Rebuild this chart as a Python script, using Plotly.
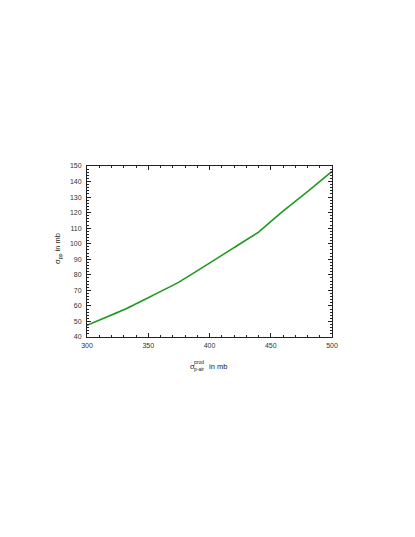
import plotly.graph_objects as go

# Data
sigma_p_air = [300, 330, 350, 375, 400, 420, 440, 460, 480, 500]
sigma_pp = [47.5, 57.5, 65.3, 75.3, 87.5, 97.5, 107.5, 121.0, 133.5, 146.5]

x_ticks = [300, 350, 400, 450, 500]
y_ticks = [40, 50, 60, 70, 80, 90, 100, 110, 120, 130, 140, 150]

# page body has an 8px margin; offset plot placement accordingly
OFF = 8
L, R, T, B = 87 - OFF, 332 - OFF, 166 - OFF, 337 - OFF

fig = go.Figure()
fig.add_trace(go.Scatter(x=sigma_p_air, y=sigma_pp, mode="lines",
                         line=dict(color="#1f9a1f", width=1.6, shape="spline", smoothing=0.3),
                         showlegend=False))

tickfont = dict(family="Liberation Sans, Arial, sans-serif", size=7, color="#333333")
axis_common = dict(showline=True, linecolor="#222222", linewidth=1, mirror="allticks",
                   ticks="inside", ticklen=4, tickcolor="#222222", tickwidth=1,
                   showgrid=False, zeroline=False, tickfont=tickfont)

fig.update_xaxes(range=[300, 500], tickvals=x_ticks, ticklabelstandoff=2,
                 minor=dict(dtick=10, tick0=300, ticks="inside", ticklen=2, tickcolor="#222222", showgrid=False),
                 **axis_common)
fig.update_yaxes(range=[40, 150], tickvals=y_ticks, ticklabelstandoff=3,
                 minor=dict(dtick=2, tick0=40, ticks="inside", ticklen=2, tickcolor="#222222", showgrid=False),
                 **axis_common)

lab = dict(family="Liberation Sans, Arial, sans-serif", size=7.5, color="#222222")
small = dict(family="Liberation Sans, Arial, sans-serif", size=5, color="#222222")
# positions in reference page pixels
annotations = [
    dict(text="σ", x=192, y=366, font=lab),
    dict(text="prod", x=198.5, y=362, font=small),
    dict(text="p-air", x=198.5, y=368.5, font=small),
    dict(text="in mb", x=218, y=366, font=lab),
]
anns = []
for a in annotations:
    anns.append(dict(text=a["text"], xref="paper", yref="paper",
                     x=(a["x"] - 87) / (332 - 87), y=(337 - a["y"]) / (337 - 166),
                     showarrow=False, font=a["font"], xanchor="center", yanchor="middle"))
anns.append(dict(text="σ<sub>pp</sub> in mb", xref="paper", yref="paper",
                 x=(58 - 87) / (332 - 87), y=(337 - 249) / (337 - 166),
                 showarrow=False, textangle=-90, font=lab, xanchor="center", yanchor="middle"))

fig.update_layout(width=415, height=537,
                  margin=dict(l=L, r=415 - R, t=T, b=537 - B),
                  paper_bgcolor="white", plot_bgcolor="white", annotations=anns)

fig.write_html("out.html")
